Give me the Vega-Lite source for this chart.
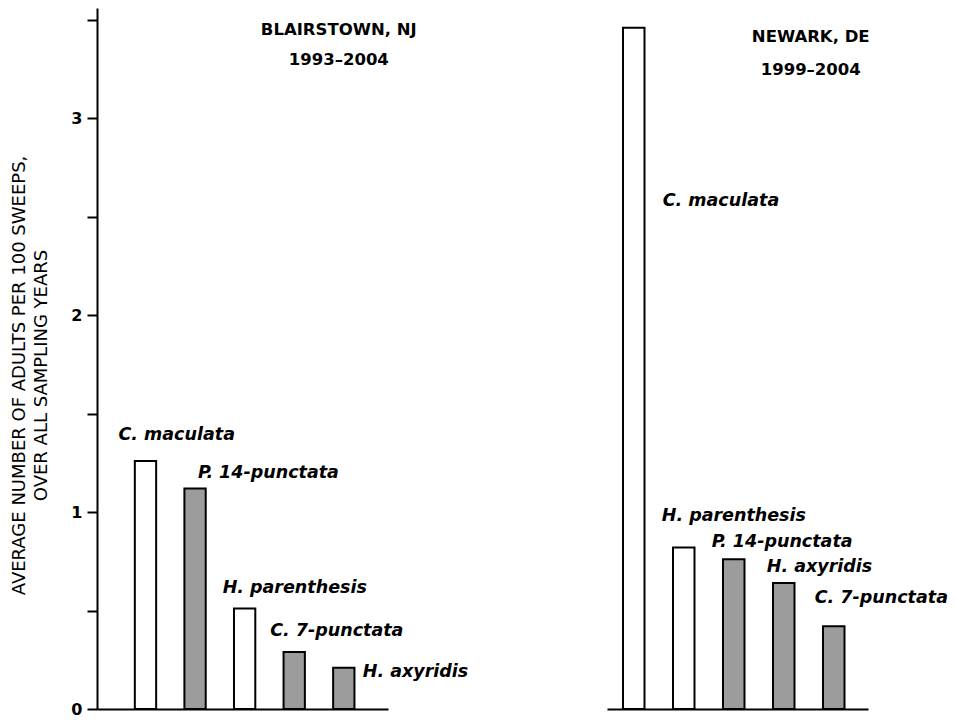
{
  "$schema": "https://vega.github.io/schema/vega-lite/v6.json",
  "background": "white",
  "padding": {"left": 10, "top": 8, "right": 5, "bottom": 5},
  "config": {"view": {"stroke": null}, "font": "DejaVu Sans"},
  "datasets": {
    "counts": [
      {"site": "Blairstown, NJ", "species": "C. maculata", "status": "native", "value": 1.26},
      {"site": "Blairstown, NJ", "species": "P. 14-punctata", "status": "exotic", "value": 1.12},
      {"site": "Blairstown, NJ", "species": "H. parenthesis", "status": "native", "value": 0.51},
      {"site": "Blairstown, NJ", "species": "C. 7-punctata", "status": "exotic", "value": 0.29},
      {"site": "Blairstown, NJ", "species": "H. axyridis", "status": "exotic", "value": 0.21},
      {"site": "Newark, DE", "species": "C. maculata", "status": "native", "value": 3.46},
      {"site": "Newark, DE", "species": "H. parenthesis", "status": "native", "value": 0.82},
      {"site": "Newark, DE", "species": "P. 14-punctata", "status": "exotic", "value": 0.76},
      {"site": "Newark, DE", "species": "H. axyridis", "status": "exotic", "value": 0.64},
      {"site": "Newark, DE", "species": "C. 7-punctata", "status": "exotic", "value": 0.42}
    ]
  },
  "spacing": 138,
  "hconcat": [
    {
      "width": 291,
      "height": 701,
      "data": {"name": "counts"},
      "transform": [{"filter": "datum.site === 'Blairstown, NJ'"}],
      "encoding": {
        "x": {
          "field": "species", "type": "nominal", "sort": null,
          "scale": {"domain": ["C. maculata", "P. 14-punctata", "H. parenthesis", "C. 7-punctata", "H. axyridis"], "paddingInner": 0.57, "paddingOuter": 0.72, "align": 0.53},
          "axis": {"title": null, "labels": false, "ticks": false, "domain": true, "domainColor": "black", "domainWidth": 2, "grid": false}
        },
        "y": {
          "field": "value", "type": "quantitative",
          "scale": {"domain": [0, 3.56], "nice": false, "zero": true},
          "axis": {
            "title": ["AVERAGE NUMBER OF ADULTS PER 100 SWEEPS,", "OVER ALL SAMPLING YEARS"],
            "values": [0, 0.5, 1, 1.5, 2, 2.5, 3, 3.5],
            "labelExpr": "datum.value % 1 === 0 ? format(datum.value, 'd') : ''",
            "grid": false,
            "tickSize": 10, "tickWidth": 2, "tickColor": "black",
            "domainColor": "black", "domainWidth": 2,
            "labelFont": "DejaVu Sans", "labelFontWeight": "bold", "labelFontSize": 16, "labelColor": "black", "labelPadding": 5,
            "titleFont": "DejaVu Sans", "titleFontWeight": "normal", "titleFontSize": 18, "titleColor": "black", "titleLineHeight": 22, "titlePadding": 20, "titleY": 367
          }
        }
      },
      "layer": [
        {
          "mark": {"type": "bar", "stroke": "black", "strokeWidth": 2},
          "encoding": {"fill": {"field": "status", "type": "nominal", "scale": {"domain": ["native", "exotic"], "range": ["white", "#9c9c9c"]}, "legend": null}}
        },
        {
          "transform": [{"filter": "datum.species === 'C. maculata'"}],
          "mark": {"type": "text", "align": "left", "baseline": "middle", "dx": -27, "dy": -26, "fontSize": 17.5, "fontWeight": "bold", "fontStyle": "italic", "color": "black"},
          "encoding": {"text": {"field": "species"}}
        },
        {
          "transform": [{"filter": "datum.species === 'P. 14-punctata'"}],
          "mark": {"type": "text", "align": "left", "baseline": "middle", "dx": 3, "dy": -15, "fontSize": 17.5, "fontWeight": "bold", "fontStyle": "italic", "color": "black"},
          "encoding": {"text": {"field": "species"}}
        },
        {
          "transform": [{"filter": "datum.species === 'H. parenthesis'"}],
          "mark": {"type": "text", "align": "left", "baseline": "middle", "dx": -22, "dy": -21, "fontSize": 17.5, "fontWeight": "bold", "fontStyle": "italic", "color": "black"},
          "encoding": {"text": {"field": "species"}}
        },
        {
          "transform": [{"filter": "datum.species === 'C. 7-punctata'"}],
          "mark": {"type": "text", "align": "left", "baseline": "middle", "dx": -24, "dy": -21, "fontSize": 17.5, "fontWeight": "bold", "fontStyle": "italic", "color": "black"},
          "encoding": {"text": {"field": "species"}}
        },
        {
          "transform": [{"filter": "datum.species === 'H. axyridis'"}],
          "mark": {"type": "text", "align": "left", "baseline": "middle", "dx": 19, "dy": 4, "fontSize": 17.5, "fontWeight": "bold", "fontStyle": "italic", "color": "black"},
          "encoding": {"text": {"field": "species"}}
        },
        {
          "transform": [{"filter": "datum.species === 'H. axyridis'"}],
          "mark": {"type": "text", "align": "center", "baseline": "middle", "lineHeight": 30, "fontSize": 16.5, "fontWeight": "bold", "dx": -5, "dy": 10, "color": "black"},
          "encoding": {
            "y": {"datum": 3.5, "type": "quantitative"},
            "text": {"value": ["BLAIRSTOWN, NJ", "1993–2004"]}
          }
        }
      ]
    },
    {
      "width": 261,
      "height": 701,
      "data": {"name": "counts"},
      "transform": [{"filter": "datum.site === 'Newark, DE'"}],
      "encoding": {
        "x": {
          "field": "species", "type": "nominal", "sort": null,
          "scale": {"domain": ["C. maculata", "H. parenthesis", "P. 14-punctata", "H. axyridis", "C. 7-punctata"], "paddingInner": 0.57, "paddingOuter": 0.395, "align": 0.405},
          "axis": {"title": null, "labels": false, "ticks": false, "domain": true, "domainColor": "black", "domainWidth": 2, "grid": false}
        },
        "y": {
          "field": "value", "type": "quantitative",
          "scale": {"domain": [0, 3.56], "nice": false, "zero": true},
          "axis": null
        }
      },
      "layer": [
        {
          "mark": {"type": "bar", "stroke": "black", "strokeWidth": 2},
          "encoding": {"fill": {"field": "status", "type": "nominal", "scale": {"domain": ["native", "exotic"], "range": ["white", "#9c9c9c"]}, "legend": null}}
        },
        {
          "transform": [{"filter": "datum.species === 'C. maculata'"}],
          "mark": {"type": "text", "align": "left", "baseline": "middle", "dx": 29, "dy": 173, "fontSize": 17.5, "fontWeight": "bold", "fontStyle": "italic", "color": "black"},
          "encoding": {"text": {"field": "species"}}
        },
        {
          "transform": [{"filter": "datum.species === 'H. parenthesis'"}],
          "mark": {"type": "text", "align": "left", "baseline": "middle", "dx": -22, "dy": -32, "fontSize": 17.5, "fontWeight": "bold", "fontStyle": "italic", "color": "black"},
          "encoding": {"text": {"field": "species"}}
        },
        {
          "transform": [{"filter": "datum.species === 'P. 14-punctata'"}],
          "mark": {"type": "text", "align": "left", "baseline": "middle", "dx": -22, "dy": -17, "fontSize": 17.5, "fontWeight": "bold", "fontStyle": "italic", "color": "black"},
          "encoding": {"text": {"field": "species"}}
        },
        {
          "transform": [{"filter": "datum.species === 'H. axyridis'"}],
          "mark": {"type": "text", "align": "left", "baseline": "middle", "dx": -17, "dy": -16, "fontSize": 17.5, "fontWeight": "bold", "fontStyle": "italic", "color": "black"},
          "encoding": {"text": {"field": "species"}}
        },
        {
          "transform": [{"filter": "datum.species === 'C. 7-punctata'"}],
          "mark": {"type": "text", "align": "left", "baseline": "middle", "dx": -19, "dy": -28, "fontSize": 17.5, "fontWeight": "bold", "fontStyle": "italic", "color": "black"},
          "encoding": {"text": {"field": "species"}}
        },
        {
          "transform": [{"filter": "datum.species === 'C. 7-punctata'"}],
          "mark": {"type": "text", "align": "center", "baseline": "middle", "lineHeight": 33, "fontSize": 16.5, "fontWeight": "bold", "dx": -23, "dy": 17, "color": "black"},
          "encoding": {
            "y": {"datum": 3.5, "type": "quantitative"},
            "text": {"value": ["NEWARK, DE", "1999–2004"]}
          }
        }
      ]
    }
  ]
}
